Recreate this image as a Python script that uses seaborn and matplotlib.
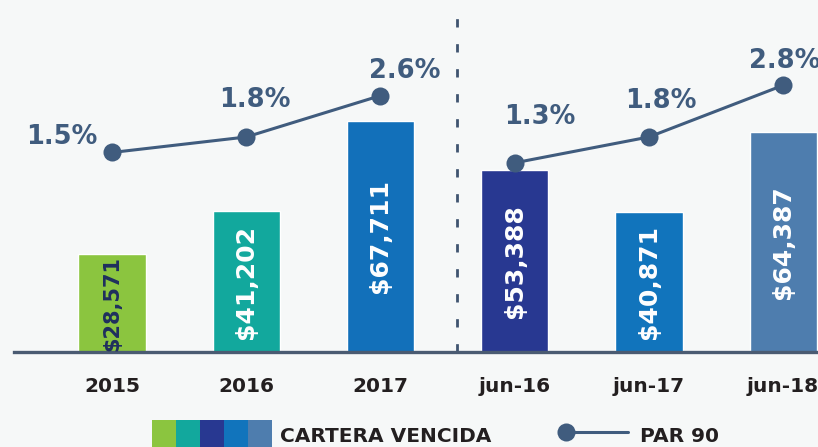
import numpy as np
import pandas as pd
import matplotlib
matplotlib.use("Agg")
import matplotlib.pyplot as plt
import seaborn as sns
from matplotlib.patches import Rectangle
from matplotlib.lines import Line2D

# Data
periods = ["2015", "2016", "2017", "jun-16", "jun-17", "jun-18"]
groups = ["anual", "anual", "anual", "junio", "junio", "junio"]
cartera_vencida = [28571, 41202, 67711, 53388, 40871, 64387]
par90 = [1.5, 1.8, 2.6, 1.3, 1.8, 2.8]

bar_colors = ["#8BC53F", "#12A89D", "#1270BA", "#283891", "#1174BC", "#4E7DAE"]
legend_colors = ["#8BC53F", "#12A89D", "#283891", "#1174BC", "#4E7DAE"]
line_color = "#405C7E"
text_dark = "#231F20"
bg = "#F6F8F8"

df = pd.DataFrame({"period": periods, "group": groups,
                   "cartera": cartera_vencida, "par": par90})
df["pos"] = np.arange(len(df))

sns.set_theme(style="white")
plt.rcParams["font.family"] = ["DejaVu Sans"]

fig = plt.figure(figsize=(8.18, 4.47), dpi=100, facecolor=bg)
ax = fig.add_axes([0.0171, 0.2125, 0.983, 0.7875])
ax.set_facecolor(bg)

sns.barplot(data=df, x="period", y="cartera", hue="period", palette=bar_colors,
            width=0.5, legend=False, ax=ax, saturation=1)
ax.set_ylim(0, 103000)
ax.set_xlim(-0.73, 5.26)

label_sizes = [15, 18, 18, 18, 18, 18]
for i, (v, p) in enumerate(zip(cartera_vencida, ax.patches)):
    col = "#1F2F5E" if i == 0 else "white"
    ax.text(p.get_x() + p.get_width() / 2, v / 2, f"${v:,}", rotation=90,
            ha="center", va="center", color=col, fontsize=label_sizes[i],
            fontweight="bold")

for s in ["top", "left", "right"]:
    ax.spines[s].set_visible(False)
ax.spines["bottom"].set_color("#4A5B72")
ax.spines["bottom"].set_linewidth(2.4)
ax.set_yticks([])
ax.set_xlabel("")
ax.set_ylabel("")
ax.tick_params(axis="x", length=0, pad=18)
for lbl in ax.get_xticklabels():
    lbl.set_fontsize(14.5)
    lbl.set_fontweight("bold")
    lbl.set_color(text_dark)

ax.axvline(2.57, ymin=0, ymax=0.975, color="#3F5470", lw=2, ls=(0, (3, 6)))

ax2 = ax.twinx()
sns.lineplot(data=df, x="pos", y="par", hue="group", palette=[line_color, line_color],
             marker="o", markersize=13, markeredgewidth=0, lw=2.2, legend=False, ax=ax2)
ax2.set_ylim(-2.36, 4.45)
ax2.set_yticks([])
ax2.set_ylabel("")
ax2.set_xlabel("")
for s in ax2.spines.values():
    s.set_visible(False)

label_offsets = [(-50, 15), (9, 37), (24, 25), (25, 46), (12, 36), (2, 24)]
for x, v, off in zip(df["pos"], par90, label_offsets):
    ax2.annotate(f"{v:.1f}%", (x, v), xytext=off, textcoords="offset pixels",
                 ha="center", va="center", color=line_color, fontsize=18.5,
                 fontweight="bold", annotation_clip=False)

# legend
W, H = 818, 447
for i, c in enumerate(legend_colors):
    fig.add_artist(Rectangle(((152 + 24 * i) / W, 0), 24 / W, 27 / H,
                             transform=fig.transFigure, color=c, lw=0))
fig.text(280 / W, (H - 437) / H, "CARTERA VENCIDA", fontsize=14.5, fontweight="bold",
         color=text_dark, va="center", ha="left")
fig.add_artist(Line2D([566 / W, 628 / W], [(H - 432) / H] * 2, transform=fig.transFigure,
                      color=line_color, lw=2.2))
fig.add_artist(Line2D([566 / W], [(H - 432) / H], transform=fig.transFigure,
                      color=line_color, marker="o", markersize=13, markeredgewidth=0))
fig.text(640 / W, (H - 437) / H, "PAR 90", fontsize=14.5, fontweight="bold",
         color=text_dark, va="center", ha="left")

fig.savefig("out.png", dpi=100, facecolor=bg)
